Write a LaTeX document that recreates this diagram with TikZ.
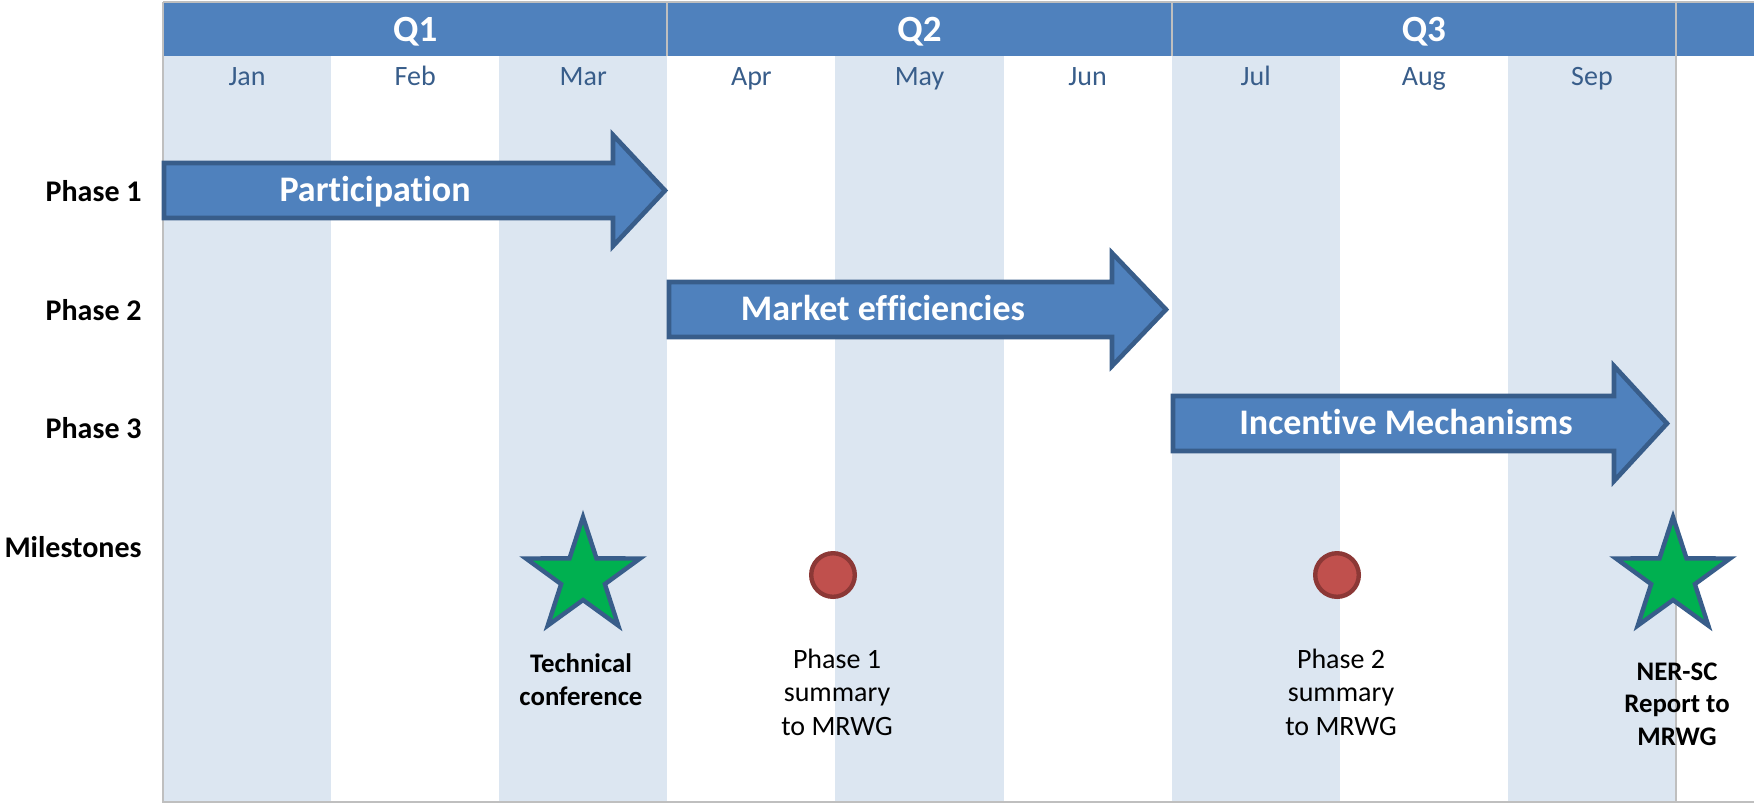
\documentclass[tikz,border=0pt]{standalone}
\usepackage{fontspec}
\setmainfont{Carlito}[Ligatures={NoCommon}]
\definecolor{hdr}{HTML}{4F81BD}
\definecolor{stripe}{HTML}{DCE6F1}
\definecolor{gridgray}{HTML}{BFBFBF}
\definecolor{arrline}{HTML}{385D8A}
\definecolor{monthtxt}{HTML}{385D8A}
\definecolor{dotfill}{HTML}{C0504D}
\definecolor{dotline}{HTML}{8C3836}
\definecolor{starfill}{HTML}{00B050}
\begin{document}
\begin{tikzpicture}[x=0.5pt,y=-0.5pt,
  qlabel/.style={anchor=base,text=white,font=\fontsize{18.5pt}{22pt}\selectfont\bfseries,inner sep=0pt},
  month/.style={anchor=base,text=monthtxt,font=\fontsize{14pt}{17pt}\selectfont,inner sep=0pt},
  rowlabel/.style={anchor=base east,text=black,font=\fontsize{15pt}{18pt}\selectfont\bfseries,inner sep=0pt},
  parrow/.style={fill=hdr,draw=arrline,line width=2.3pt,line join=miter},
  arrlabel/.style={anchor=base,text=white,font=\fontsize{18pt}{22pt}\selectfont\bfseries,inner sep=0pt},
  starsty/.style={fill=starfill,draw=arrline,line width=2.2pt,line join=miter},
  dot/.style={circle,fill=dotfill,draw=dotline,line width=2.2pt,minimum size=21.8pt,inner sep=0pt},
  msbold/.style={anchor=base,align=center,text=black,font=\fontsize{13.4pt}{16.25pt}\selectfont\bfseries,inner sep=0pt},
  msreg/.style={anchor=base,align=center,text=black,font=\fontsize{14pt}{16.75pt}\selectfont,inner sep=0pt}
]
\useasboundingbox (0,0) rectangle (1754,804);
% stripes
\foreach \i in {0,2,4,6,8}
  \fill[stripe] ({163+\i*168.11},56) rectangle ({163+(\i+1)*168.11},802);
% header band
\fill[hdr] (163,3) rectangle (1754,56);
\draw[gridgray,line width=1.2pt] (163,2) -- (1754,2);
\draw[gridgray,line width=1pt] (667.3,3) -- (667.3,56);
\draw[gridgray,line width=1pt] (1171.7,3) -- (1171.7,56);
\draw[gridgray,line width=1pt] (1676,3) -- (1676,802);
\draw[gridgray,line width=1.4pt] (163,2) -- (163,802) -- (1754,802);
% quarter labels
\node[qlabel] (q1) at (415.2,41.5) {Q1};
\node[qlabel] (q2) at (919.5,41.5) {Q2};
\node[qlabel] (q3) at (1423.8,41.5) {Q3};
% month labels
\foreach \m [count=\i from 0] in {Jan,Feb,Mar,Apr,May,Jun,Jul,Aug,Sep}
  \node[month] (m\i) at ({163+(\i+0.5)*168.11},85) {\m};
% row labels
\node[rowlabel] (r1) at (142,201) {Phase 1};
\node[rowlabel] (r2) at (142,320) {Phase 2};
\node[rowlabel] (r3) at (142,438) {Phase 3};
\node[rowlabel] (r4) at (142,557) {Milestones};
% phase arrows
\draw[parrow] (164,163) -- (613,163) -- (613,135) -- (665,190.5) -- (613,246) -- (613,218) -- (164,218) -- cycle;
\draw[parrow] (669,282) -- (1112,282) -- (1112,253) -- (1166,309.5) -- (1112,366) -- (1112,337) -- (669,337) -- cycle;
\draw[parrow] (1173,396) -- (1614,396) -- (1614,366) -- (1667,423.5) -- (1614,481) -- (1614,451) -- (1173,451) -- cycle;
\node[arrlabel] (a1) at (375,201.7) {Participation};
\node[arrlabel] (a2) at (883,320.5) {Market efficiencies};
\node[arrlabel] (a3) at (1406,434.5) {Incentive Mechanisms};
% stars
\draw[starsty] ([shift={(583,577)}]-90:60) -- ([shift={(583,577)}]-54:23) -- ([shift={(583,577)}]-18:60) -- ([shift={(583,577)}]18:23) -- ([shift={(583,577)}]54:60) -- ([shift={(583,577)}]90:23) -- ([shift={(583,577)}]126:60) -- ([shift={(583,577)}]162:23) -- ([shift={(583,577)}]198:60) -- ([shift={(583,577)}]234:23) -- cycle;
\draw[starsty] ([shift={(1673,577)}]-90:60) -- ([shift={(1673,577)}]-54:23) -- ([shift={(1673,577)}]-18:60) -- ([shift={(1673,577)}]18:23) -- ([shift={(1673,577)}]54:60) -- ([shift={(1673,577)}]90:23) -- ([shift={(1673,577)}]126:60) -- ([shift={(1673,577)}]162:23) -- ([shift={(1673,577)}]198:60) -- ([shift={(1673,577)}]234:23) -- cycle;
% circles
\node[dot] (d1) at (833,575) {};
\node[dot] (d2) at (1337,575) {};
% milestone labels (base anchor = baseline of last line)
\node[msbold] (t1) at (581,705) {Technical\\conference};
\node[msreg] (t2) at (837,735) {Phase 1\\summary\\to MRWG};
\node[msreg] (t3) at (1341,735) {Phase 2\\summary\\to MRWG};
\node[msbold] (t4) at (1677,745) {NER-SC\\Report to\\MRWG};
\end{tikzpicture}
\end{document}
